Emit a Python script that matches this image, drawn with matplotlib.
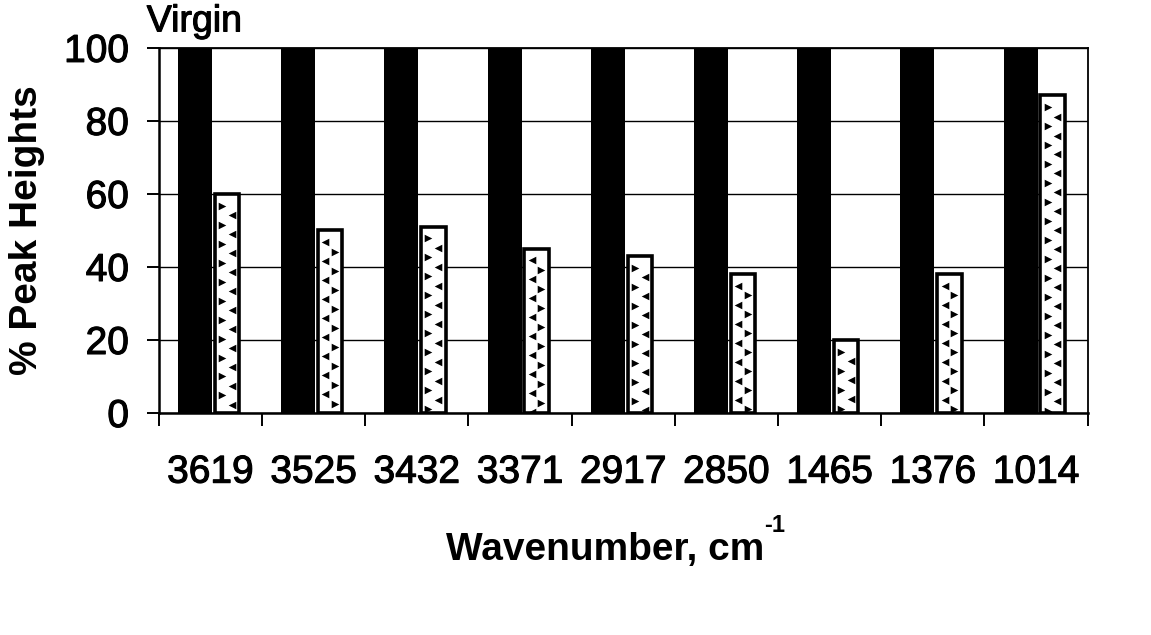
import numpy as np
import matplotlib
matplotlib.use("Agg")
import matplotlib.pyplot as plt
import matplotlib.patheffects as pe

# data
wavenumbers = ["3619", "3525", "3432", "3371", "2917", "2850", "1465", "1376", "1014"]
virgin = [100, 100, 100, 100, 100, 100, 100, 100, 100]
aged = [60, 50, 51, 45, 43, 38, 20, 38, 87]
yticks = [0, 20, 40, 60, 80, 100]

plt.rcParams['font.family'] = ['Liberation Sans', 'DejaVu Sans']
heavy = [pe.withStroke(linewidth=0.8, foreground="black")]

fig = plt.figure(figsize=(11.51, 6.35), dpi=100)
ax = fig.add_axes([0.138, 0.3496, 0.807, 0.575])

x = np.arange(len(wavenumbers))

ax.bar(x - 0.15, virgin, width=0.33, color="black", edgecolor="black",
       linewidth=0, zorder=3)
bars = ax.bar(x + 0.16, aged, width=0.237, color="white", edgecolor="black",
              linewidth=2.6, zorder=3)

# chevron fill pattern inside the second series
step = 5.2
for i, b in enumerate(bars):
    h = b.get_height()
    x0 = b.get_x()
    bw = b.get_width()
    left_m, right_m = (">", "<") if i % 2 == 0 else ("<", ">")
    yl = np.arange(h - 3.2, 0, -step)
    yr = np.arange(h - 3.2 - step/2, 0, -step)
    s1 = ax.scatter(np.full(len(yl), x0 + bw*0.3), yl, marker=left_m, s=30,
                    color="black", linewidths=0, zorder=4)
    s2 = ax.scatter(np.full(len(yr), x0 + bw*0.7), yr, marker=right_m, s=30,
                    color="black", linewidths=0, zorder=4)
    s1.set_clip_path(b)
    s2.set_clip_path(b)

ax.set_xlim(-0.5, len(wavenumbers) - 0.5)
ax.set_ylim(0, 100)

ax.set_yticks(yticks)
ax.set_yticklabels([str(v) for v in yticks])
ax.yaxis.grid(True, color="black", linewidth=1.0, zorder=0)
ax.set_axisbelow(True)

ax.set_xticks(x)
ax.set_xticklabels(wavenumbers)
ax.set_xticks(np.arange(len(wavenumbers) + 1) - 0.5, minor=True)
ax.tick_params(axis="x", which="major", length=0, pad=30, labelsize=28)
ax.tick_params(axis="x", which="minor", length=9, width=1.4, direction="out")
ax.tick_params(axis="y", which="major", length=8.5, width=1.4, direction="out",
               pad=13, labelsize=28)
for lab in ax.get_xticklabels() + ax.get_yticklabels():
    lab.set_path_effects(heavy)

for side in ["left", "bottom"]:
    ax.spines[side].set_linewidth(1.8)
for side in ["top", "right"]:
    ax.spines[side].set_linewidth(1.3)

ax.set_ylabel("% Peak Heights", fontsize=28, fontweight="bold", labelpad=14)
xl = ax.set_xlabel("Wavenumber, cm", fontsize=28, fontweight="bold")
ax.xaxis.set_label_coords(0.48, -0.325)
ax.annotate("-1", xy=(1, 1), xycoords=xl, xytext=(0, 0), textcoords="offset points",
            fontsize=17, fontweight="bold", ha="left", va="baseline")

ax.text(-0.013, 1.045, "Virgin", transform=ax.transAxes, fontsize=27,
        ha="left", va="baseline", path_effects=heavy)

fig.savefig("out.png", dpi=100)
